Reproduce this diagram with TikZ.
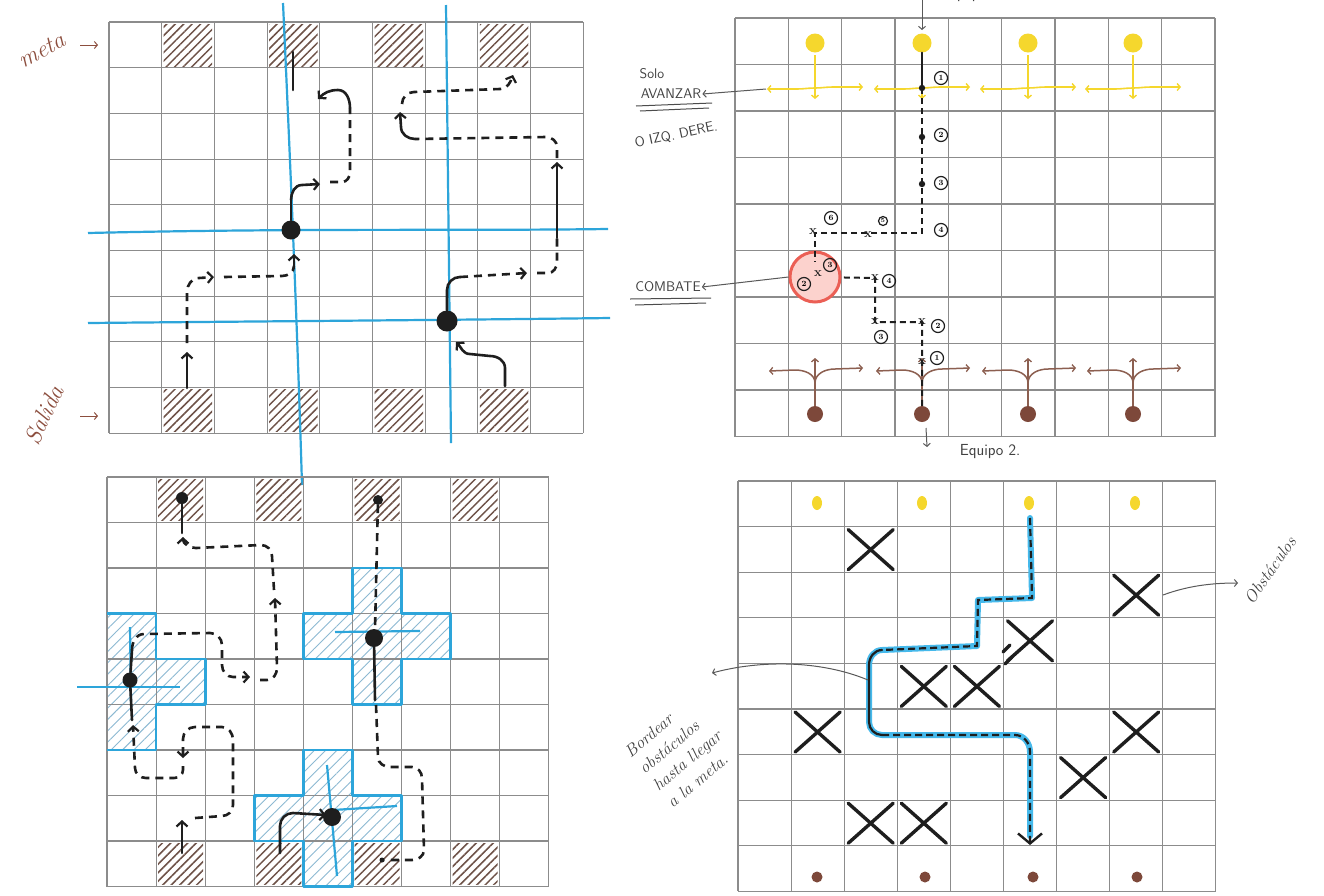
\documentclass[tikz,border=0pt]{standalone}
\usepackage{fontspec}
\usetikzlibrary{arrows.meta,patterns.meta,calc,shapes.geometric}
\definecolor{gridgray}{RGB}{140,140,140}
\definecolor{hatchbrown}{RGB}{110,82,72}
\definecolor{hatchblue}{RGB}{140,185,210}
\definecolor{cyanblue}{RGB}{45,165,218}
\definecolor{pathblue}{RGB}{70,185,235}
\definecolor{yel}{RGB}{245,215,45}
\definecolor{browndot}{RGB}{125,72,58}
\definecolor{brownline}{RGB}{140,95,80}
\definecolor{redc}{RGB}{235,95,85}
\definecolor{redfill}{RGB}{252,210,205}
\definecolor{labelbrown}{RGB}{140,78,62}
\definecolor{inkc}{RGB}{30,30,30}
\newcommand{\mkgrid}[4]{%
  \foreach \k in {0,...,9}{%
    \draw[gridline] ({#1+\k*#3},#2) -- ({#1+\k*#3},{#2+9*#4});
    \draw[gridline] (#1,{#2+\k*#4}) -- ({#1+9*#3},{#2+\k*#4});
  }}
\newcommand{\bigx}[2]{%
  \draw[xline] ({738+(#1-1)*53.1+4},{481+(#2-1)*45.6+3}) -- ++(45,40);
  \draw[xline] ({738+(#1-1)*53.1+4},{481+(#2-1)*45.6+43}) -- ++(45,-40);}
\tikzset{
  gridline/.style={draw=gridgray,line width=1.1},
  bhatch/.style={pattern={Lines[angle=45,distance=6pt,line width=1.5pt]},pattern color=hatchbrown},
  chatch/.style={pattern={Lines[angle=45,distance=8pt,line width=0.9pt]},pattern color=hatchblue},
  crossline/.style={draw=cyanblue,line width=2.6,line join=round},
  bluestroke/.style={draw=cyanblue,line width=2.2},
  ink/.style={draw=inkc,line width=2.6,line cap=round},
  inkd/.style={ink,line cap=butt,dash pattern=on 8pt off 6pt},
  tip/.style={-{Straight Barb[length=5pt,width=11pt,line width=2.2pt]}},
  bigdot/.style={circle,fill=inkc,inner sep=0pt},
  ystroke/.style={draw=yel,line width=1.6},
  ytip/.style={-{Straight Barb[length=3pt,width=7pt,line width=1.4pt]}},
  bstroke/.style={draw=brownline,line width=1.5},
  btip/.style={-{Straight Barb[length=3pt,width=7pt,line width=1.3pt]}},
  thinarrow/.style={draw=black!65,line width=1,-{Straight Barb[length=3pt,width=7pt,line width=1pt]}},
  note/.style={text=black!75,font=\sffamily\fontsize{14}{15}\selectfont,inner sep=1pt},
  cursive/.style={text=labelbrown,font=\itshape\fontsize{24}{26}\selectfont,inner sep=1pt},
  num/.style={circle,draw=inkc,line width=1.2,inner sep=0.5pt,minimum size=13pt,font=\bfseries\fontsize{8}{8}\selectfont},
  xm/.style={inner sep=0pt,font=\bfseries\fontsize{13}{13}\selectfont,text=inkc},
  xline/.style={draw=inkc,line width=3.4,line cap=round},
  bluepath/.style={draw=pathblue,line width=6,line join=round,line cap=round},
}
\begin{document}
\begin{tikzpicture}[x=1pt,y=-1pt]
\useasboundingbox (0,0) rectangle (1324,895);
\fill[white] (0,0) rectangle (1324,895);

% ================= TOP-LEFT GRID =================
\foreach \c in {1,3,5,7}{
  \fill[bhatch] ({109+\c*52.7+2},24) rectangle ++(48.5,42);
  \fill[bhatch] ({109+\c*52.7+2},389.6) rectangle ++(48.5,42);
}
\mkgrid{109}{22}{52.7}{45.7}
\draw[bluestroke] (283,3) .. controls (292,200) and (298,350) .. (302,485);
\draw[bluestroke] (446,5) -- (451,443);
\draw[bluestroke] (88,233) .. controls (300,228) and (450,231) .. (608,229);
\draw[bluestroke] (88,323) .. controls (300,321) and (450,320) .. (610,318);
\node[bigdot,minimum size=19pt] (tld1) at (291,230) {};
\node[bigdot,minimum size=21pt] (tld2) at (447,321) {};

% path A
\draw[ink,tip] (187,388) -- (187,352);
\draw[inkd,tip] (187,343) -- (187,292) to[out=90,in=180] (199,278) -- (214,277);
\draw[inkd] (224,277) -- (282,276) to[out=0,in=-90] (294,266);
\draw[ink,tip] (294,268) -- (294,254);
\draw[ink] (tld1) -- (291,200);
\draw[ink,tip] (291,200) to[out=90,in=180] (302,185) -- (320,184);
\draw[inkd] (330,182) -- (342,182) to[out=0,in=-90] (350,172) -- (350,108);
\draw[ink,tip] (350,108) to[out=90,in=0] (338,90) to[out=180,in=45] (318,99);
\draw[ink] (293,52) -- (293,90);
% path B
\draw[ink,tip] (505,386) -- (505,368) to[out=90,in=0] (490,356) -- (470,354) to[out=180,in=-45] (456,342);
\draw[ink] (tld2) -- (447,290) to[out=90,in=180] (460,277);
\draw[inkd,tip] (460,277) -- (527,273);
\draw[inkd] (537,273) -- (548,273) to[out=0,in=-90] (557,262) -- (557,235);
\draw[ink,tip] (557,238) -- (557,162);
\draw[inkd] (557,158) -- (557,147) to[out=90,in=0] (546,137) -- (415,139);
\draw[ink,tip] (415,139) to[out=180,in=-90] (401,127) -- (400,112);
\draw[inkd,tip] (402,104) to[out=90,in=180] (414,92) -- (500,89) to[out=0,in=-110] (513,75);

\node[cursive,rotate=28] (meta) at (42,50) {meta};
\node[cursive,rotate=65] (salida) at (44,415) {Salida};
\coordinate (ma) at (98,45);
\coordinate (sa) at (98,416);
\draw[thinarrow,draw=labelbrown] (80,45) -- (ma);
\draw[thinarrow,draw=labelbrown] (80,416) -- (sa);

% ================= BOTTOM-LEFT GRID =================
\fill[chatch] (352.5,568) -- (401.6,568) -- (401.6,613.5) -- (450.7,613.5) -- (450.7,659) -- (401.6,659) -- (401.6,704.5) -- (352.5,704.5) -- (352.5,659) -- (303.4,659) -- (303.4,613.5) -- (352.5,613.5) -- cycle;
\fill[chatch] (107,613.5) -- (156.1,613.5) -- (156.1,659) -- (205.2,659) -- (205.2,704.5) -- (156.1,704.5) -- (156.1,750) -- (107,750) -- cycle;
\fill[chatch] (303.4,750) -- (352.5,750) -- (352.5,795.5) -- (401.6,795.5) -- (401.6,841) -- (352.5,841) -- (352.5,886.5) -- (303.4,886.5) -- (303.4,841) -- (254.3,841) -- (254.3,795.5) -- (303.4,795.5) -- cycle;
\foreach \c in {1,3,5,7}{
  \fill[bhatch] ({107+\c*49.1+2},479) rectangle ++(45,41.5);
  \fill[bhatch] ({107+\c*49.1+2},843) rectangle ++(45,41.5);
}
\mkgrid{107}{477}{49.1}{45.5}
\draw[crossline] (352.5,568) -- (401.6,568) -- (401.6,613.5) -- (450.7,613.5) -- (450.7,659) -- (401.6,659) -- (401.6,704.5) -- (352.5,704.5) -- (352.5,659) -- (303.4,659) -- (303.4,613.5) -- (352.5,613.5) -- cycle;
\draw[crossline] (107,613.5) -- (156.1,613.5) -- (156.1,659) -- (205.2,659) -- (205.2,704.5) -- (156.1,704.5) -- (156.1,750) -- (107,750);
\draw[crossline] (303.4,750) -- (352.5,750) -- (352.5,795.5) -- (401.6,795.5) -- (401.6,841) -- (352.5,841) -- (352.5,886.5) -- (303.4,886.5) -- (303.4,841) -- (254.3,841) -- (254.3,795.5) -- (303.4,795.5) -- cycle;
\draw[bluestroke] (335,632) -- (420,631);
\draw[bluestroke] (77,687) -- (180,687);
\draw[bluestroke] (130,627) -- (131,702);
\draw[bluestroke] (327,765) -- (337,876);
\draw[bluestroke] (333,810) -- (397,806);

\node[bigdot,minimum size=15pt] (bld1) at (130,680) {};
\node[bigdot,minimum size=18pt] (bld2) at (374,638) {};
\node[bigdot,minimum size=18pt] (bld3) at (332,817) {};
\node[bigdot,minimum size=12pt] (bld4) at (182,498) {};
\node[bigdot,minimum size=10pt] (bld5) at (378,500) {};
\node[bigdot,minimum size=5pt] (bld6) at (382,860) {};

\draw[ink,tip] (182,853) -- (182,820);
\draw[inkd,tip] (195,818) -- (222,816) to[out=0,in=-90] (233,805) -- (233,740) to[out=90,in=0] (222,727) -- (195,727) to[out=180,in=90] (183,739) -- (183,758);
\draw[inkd,tip] (183,766) -- (183,770) to[out=-90,in=0] (174,778) -- (146,778) to[out=180,in=-90] (135,768) -- (133,725);
\draw[ink] (132,720) -- (bld1);
\draw[ink] (bld1) -- (132,650);
\draw[inkd,tip] (132,650) to[out=90,in=180] (144,634) -- (210,633) to[out=0,in=90] (222,645) -- (222,665) to[out=-90,in=180] (233,677) -- (250,677);
\draw[inkd,tip] (260,680) -- (267,680) to[out=0,in=-90] (277,668) -- (275,598);
\draw[inkd,tip] (274,590) -- (272,556) to[out=90,in=0] (261,545) -- (196,548) to[out=180,in=-90] (183,537);
\draw[ink] (182,533) -- (bld4);
\draw[inkd] (bld5) -- (375,630);
\draw[ink] (bld2) -- (375,700);
\draw[inkd] (376,705) -- (378,757) to[out=-90,in=180] (390,767) -- (412,767) to[out=0,in=90] (422,778) -- (424,850) to[out=-90,in=0] (412,860) -- (bld6);
\draw[ink,tip] (280,853) -- (280,826) to[out=90,in=180] (293,813) -- (326,815);

% ================= TOP-RIGHT GRID =================
\mkgrid{735}{18}{53.33}{46.5}
\node[circle,fill=redfill,draw=redc,line width=3,minimum size=50pt] (combat) at (815,277) {};
\foreach \X [count=\i] in {815,922,1028,1133}{
  \node[circle,fill=yel,minimum size=19pt,inner sep=0pt] (ydot\i) at (\X,43) {};
  \draw[ystroke] (\X,55) -- (\X,92);
  \draw[ystroke,ytip] (\X,88) to[out=180,in=0] ({\X-18},89) -- ({\X-48},89);
  \draw[ystroke,ytip] (\X,88) to[out=0,in=180] ({\X+18},87) -- ({\X+48},87);
  \draw[ystroke,ytip] (\X,88) -- (\X,99);
  \node[circle,fill=browndot,minimum size=16pt,inner sep=0pt] (bdot\i) at (\X,414) {};
  \draw[bstroke] (bdot\i) -- (\X,383);
  \draw[bstroke,btip] (\X,383) to[out=90,in=0] ({\X-20},370) -- ({\X-46},371);
  \draw[bstroke,btip] (\X,383) to[out=90,in=180] ({\X+20},369) -- ({\X+48},368);
  \draw[bstroke,btip] (\X,383) -- (\X,358);
}
\draw[ink,line width=2.2] (ydot2) -- (922,88);
\draw[inkd,line width=2,dash pattern=on 6pt off 4pt] (922,88) -- (922,233) -- (815,233) -- (815,262);
\foreach \yy in {88,137,184}{\fill[inkc] (922,\yy) circle (3.2);}
\node[xm] (t5) at (868,235) {x};
\node[xm] (t6) at (813,232) {x};
\node[num] at (941,78) {1};
\node[num] at (941,135) {2};
\node[num] at (941,183) {3};
\node[num] at (941,230) {4};
\node[num,minimum size=9pt,font=\bfseries\fontsize{6}{6}\selectfont] at (883,221) {5};
\node[num] at (831,218) {6};
\draw[inkd,line width=2,dash pattern=on 6pt off 4pt] (bdot2) -- (922,322) -- (875,322) -- (875,278) -- (combat);
\node[xm] at (922,362) {x};
\node[xm] at (922,322) {x};
\node[xm] at (875,322) {x};
\node[xm] at (875,278) {x};
\node[num] at (937,358) {1};
\node[num] at (938,326) {2};
\node[num] at (881,337) {3};
\node[num] at (889,281) {4};
\node[xm] at (818,274) {x};
\node[num] at (804,284) {2};
\node[num] at (830,265) {3};

\node[note] (solo) at (652,74) {Solo};
\node[note] (avanzar) at (671,94) {AVANZAR};
\draw[black!70,line width=1] (636,106) -- (712,103);
\draw[black!70,line width=1] (640,111) -- (709,108);
\coordinate (ya) at (766,89);
\draw[thinarrow] (ya) -- (avanzar.east);
\node[note,rotate=12] (izq) at (676,135) {O IZQ. DERE.};
\node[note] (combate) at (668,287) {COMBATE};
\draw[black!70,line width=1] (630,299) -- (711,298);
\draw[black!70,line width=1] (635,305) -- (706,303);
\draw[thinarrow] (combat.west) -- (combate.east);
\node[note,font=\sffamily\fontsize{16}{16}\selectfont] (eq1) at (972,-5) {Equipo 1};
\coordinate (e1a) at (922,0);
\draw[thinarrow] (e1a) -- (922,30);
\node[note,font=\sffamily\fontsize{16}{16}\selectfont] (eq2) at (990,452) {Equipo 2.};
\coordinate (e2a) at (926,428);
\draw[thinarrow] (e2a) -- (927,447);

% ================= BOTTOM-RIGHT GRID =================
\mkgrid{738}{481}{53.1}{45.6}
\foreach \X [count=\i] in {817,922,1029,1135}{
  \node[ellipse,fill=yel,minimum width=10pt,minimum height=14pt,inner sep=0pt] (ysm\i) at (\X,503) {};
}
\foreach \X [count=\i] in {817,925,1033,1137}{
  \node[circle,fill=browndot,minimum size=11pt,inner sep=0pt] (bsm\i) at (\X,877) {};
}
\bigx{3}{2}
\bigx{8}{3}
\bigx{6}{4}
\bigx{4}{5}
\bigx{5}{5}
\bigx{2}{6}
\bigx{8}{6}
\bigx{7}{7}
\bigx{3}{8}
\bigx{4}{8}
\draw[xline] (1003,652) -- (1010,645);
\draw[xline] (1005,664) -- (1012,657);

\coordinate (bp0) at (1030,518);
\coordinate (bp9) at (1030,845);
\draw[bluepath] (bp0) -- (1032,598) -- (978,600) -- (977,646) -- (882,650) to[out=180,in=90] (869,665) -- (869,722) to[out=-90,in=180] (882,735) -- (1015,735) to[out=0,in=90] (1030,752) -- (1030,836);
\draw[ink,line width=2.2] (882,650) to[out=180,in=90] (869,665) -- (869,722) to[out=-90,in=180] (882,735);
\draw[inkd,line width=2.2,dash pattern=on 7pt off 4pt] (bp0) -- (1032,598) -- (978,600) -- (977,646) -- (882,650);
\draw[inkd,line width=2.2,dash pattern=on 7pt off 4pt,-{Straight Barb[length=10pt,width=24pt,line width=2.4pt]}] (882,735) -- (1015,735) to[out=0,in=90] (1030,752) -- (bp9);

\coordinate (ann) at (868,680);
\node[note,rotate=40,align=left,font=\itshape\fontsize{17}{22}\selectfont] (bordear) at (680,752) {Bordear\\obstáculos\\hasta llegar\\a la meta.};
\draw[thinarrow] (ann) .. controls (820,660) and (760,660) .. (712,673);
\node[note,rotate=55,font=\itshape\fontsize{17}{17}\selectfont] (obst) at (1270,570) {Obstáculos};
\coordinate (oa) at (1163,595);
\draw[thinarrow] (oa) .. controls (1190,585) and (1215,583) .. (1238,583);
\end{tikzpicture}
\end{document}
